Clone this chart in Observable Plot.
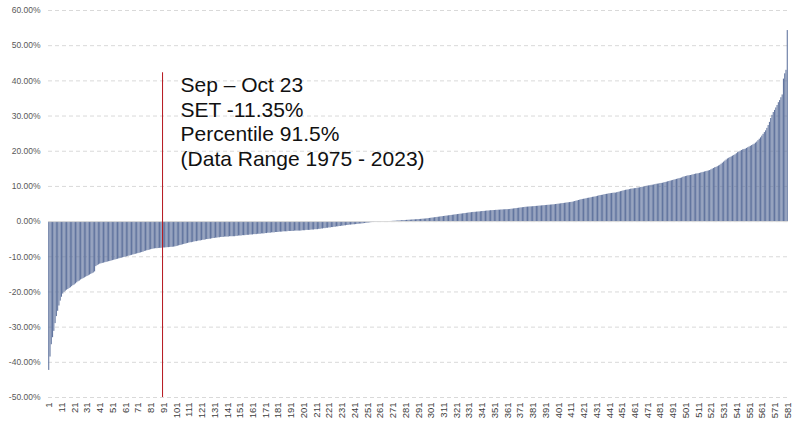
<!DOCTYPE html>
<html>
<head>
<meta charset="utf-8">
<script src="https://cdn.jsdelivr.net/npm/d3@7"></script>
<script src="https://cdn.jsdelivr.net/npm/@observablehq/plot@0.6"></script>
<style>
  html, body { margin: 0; padding: 0; background: #ffffff; }
  #chart svg { display: block; }
</style>
</head>
<body>
<div id="chart"></div>
<script>
// Monthly (two-month) SET returns, sorted ascending, in percent
const returnsPct = [
  -42.3,-38.5,-35.0,-33.0,-31.2,-29.0,-27.0,-25.5,-24.0,-22.6,
  -21.5,-20.6,-20.1,-19.8,-19.5,-19.3,-19.0,-18.8,-18.5,-18.2,
  -18.0,-17.7,-17.4,-17.1,-16.9,-16.6,-16.4,-16.2,-16.0,-15.8,
  -15.6,-15.4,-15.2,-15.0,-14.8,-14.6,-14.3,-12.8,-12.5,-12.3,
  -12.1,-12.0,-11.9,-11.8,-11.7,-11.6,-11.5,-11.4,-11.35,-11.2,
  -11.1,-11.0,-10.9,-10.8,-10.7,-10.6,-10.5,-10.4,-10.3,-10.2,
  -10.1,-10.0,-9.9,-9.8,-9.7,-9.6,-9.5,-9.4,-9.3,-9.2,
  -9.1,-9.0,-8.9,-8.8,-8.7,-8.5,-8.4,-8.3,-8.2,-8.1,
  -8.0,-7.9,-7.8,-7.75,-7.7,-7.7,-7.65,-7.6,-7.6,-7.55,
  -7.5,-7.5,-7.45,-7.4,-7.4,-7.35,-7.3,-7.3,-7.25,-7.2,
  -7.1,-7.0,-6.9,-6.8,-6.7,-6.6,-6.5,-6.4,-6.3,-6.2,
  -6.1,-6.0,-6.0,-5.9,-5.8,-5.7,-5.7,-5.6,-5.5,-5.5,
  -5.4,-5.3,-5.3,-5.2,-5.1,-5.1,-5.0,-5.0,-4.9,-4.8,
  -4.8,-4.7,-4.7,-4.6,-4.6,-4.5,-4.5,-4.5,-4.4,-4.4,
  -4.4,-4.4,-4.3,-4.3,-4.3,-4.3,-4.3,-4.2,-4.2,-4.1,
  -4.1,-4.1,-4.0,-4.0,-4.0,-3.9,-3.9,-3.9,-3.8,-3.8,
  -3.8,-3.7,-3.7,-3.7,-3.6,-3.6,-3.6,-3.5,-3.5,-3.5,
  -3.4,-3.4,-3.3,-3.3,-3.3,-3.2,-3.2,-3.2,-3.1,-3.1,
  -3.1,-3.0,-3.0,-3.0,-2.9,-2.9,-2.9,-2.9,-2.8,-2.8,
  -2.8,-2.8,-2.8,-2.7,-2.7,-2.7,-2.7,-2.7,-2.7,-2.6,
  -2.6,-2.6,-2.5,-2.5,-2.5,-2.5,-2.4,-2.4,-2.4,-2.3,
  -2.3,-2.3,-2.2,-2.2,-2.1,-2.1,-2.0,-2.0,-1.9,-1.9,
  -1.8,-1.8,-1.7,-1.7,-1.6,-1.6,-1.5,-1.5,-1.4,-1.4,
  -1.3,-1.3,-1.2,-1.2,-1.1,-1.1,-1.0,-1.0,-0.95,-0.9,
  -0.9,-0.85,-0.8,-0.75,-0.7,-0.7,-0.65,-0.6,-0.55,-0.5,
  -0.45,-0.4,-0.35,-0.3,-0.25,-0.2,-0.15,-0.1,-0.08,-0.05,
  -0.03,-0.02,-0.01,0,0,0,0.01,0.02,0.03,0.05,
  0.07,0.1,0.12,0.15,0.17,0.2,0.22,0.25,0.27,0.3,
  0.32,0.35,0.37,0.4,0.42,0.45,0.47,0.5,0.52,0.55,
  0.58,0.6,0.63,0.66,0.7,0.72,0.75,0.8,0.85,0.9,
  0.95,1.0,1.05,1.1,1.15,1.2,1.25,1.3,1.35,1.4,
  1.45,1.5,1.55,1.6,1.65,1.7,1.75,1.8,1.85,1.9,
  1.95,2.0,2.05,2.1,2.15,2.2,2.25,2.3,2.35,2.4,
  2.45,2.5,2.55,2.6,2.62,2.65,2.7,2.72,2.75,2.8,
  2.85,2.88,2.9,2.95,3.0,3.0,3.05,3.1,3.1,3.15,
  3.15,3.2,3.2,3.25,3.25,3.3,3.3,3.35,3.35,3.4,
  3.4,3.4,3.45,3.5,3.55,3.6,3.65,3.7,3.75,3.8,
  3.85,3.9,3.95,4.0,4.05,4.1,4.12,4.15,4.18,4.2,
  4.23,4.26,4.3,4.33,4.36,4.4,4.43,4.46,4.5,4.53,
  4.56,4.6,4.63,4.66,4.7,4.73,4.76,4.8,4.85,4.9,
  4.95,5.0,5.05,5.1,5.15,5.2,5.25,5.3,5.35,5.4,
  5.45,5.5,5.6,5.7,5.8,5.9,6.0,6.1,6.2,6.3,
  6.35,6.4,6.5,6.6,6.65,6.7,6.8,6.9,6.95,7.0,
  7.1,7.2,7.3,7.4,7.45,7.5,7.6,7.7,7.75,7.8,
  7.9,7.95,8.0,8.05,8.1,8.1,8.2,8.3,8.4,8.5,
  8.6,8.7,8.8,8.9,8.95,9.0,9.1,9.2,9.25,9.3,
  9.35,9.4,9.5,9.55,9.6,9.7,9.75,9.8,9.9,10.0,
  10.1,10.15,10.2,10.3,10.35,10.4,10.5,10.6,10.65,10.7,
  10.8,10.85,10.9,11.0,11.1,11.2,11.3,11.4,11.5,11.6,
  11.7,11.8,11.9,12.0,12.1,12.2,12.3,12.4,12.6,12.7,
  12.8,12.9,13.0,13.05,13.1,13.2,13.3,13.4,13.5,13.55,
  13.6,13.7,13.8,13.9,14.0,14.1,14.2,14.3,14.4,14.5,
  14.7,14.9,15.1,15.3,15.4,15.6,15.8,16.0,16.3,16.6,
  16.9,17.2,17.5,17.8,18.0,18.2,18.4,18.6,18.8,19.0,
  19.3,19.6,19.8,20.0,20.2,20.4,20.5,20.6,20.8,21.0,
  21.2,21.4,21.6,21.8,22.0,22.3,22.6,23.0,23.4,23.8,
  24.3,24.8,25.3,25.8,26.5,27.3,28.2,29.3,30.2,31.0,
  31.6,32.3,33.0,33.8,34.4,35.2,36.0,40.5,42.0,43.0,
  54.3
];

// Rank labels shown on the x axis
const xTickLabels = [1,11,21,31,41,51,61,71,81,91,101,111,121,131,141,151,161,171,181,191,
  201,211,221,231,241,251,261,271,281,291,301,311,321,331,341,351,361,371,381,391,
  401,411,421,431,441,451,461,471,481,491,501,511,521,531,541,551,561,571,581];

// Y axis ticks (percent)
const yTickLabels = [-50,-40,-30,-20,-10,0,10,20,30,40,50,60];

// Annotation marker (current period) position in the ranking
const markerRank = [90];
const markerTop = [42.3];
const markerBottom = [-50];
const annotationLines = ["Sep \u2013 Oct 23", "SET -11.35%", "Percentile 91.5%", "(Data Range 1975 - 2023)"];

const ranks = returnsPct.map((_, i) => i + 1);
const data = ranks.map((r, i) => ({rank: r, value: returnsPct[i]}));
const marker = markerRank.map((r, i) => ({rank: r, y1: markerBottom[i], y2: markerTop[i], label: annotationLines.join("\n")}));

const chart = Plot.plot({
  width: 795,
  height: 427,
  marginLeft: 48,
  marginRight: 7,
  marginTop: 10,
  marginBottom: 30,
  style: {background: "#ffffff", fontFamily: "'Liberation Sans', Arial, sans-serif"},
  x: {type: "band", domain: ranks, padding: 0.15, label: null},
  y: {domain: [-50, 60], label: null},
  marks: [
    Plot.gridY(yTickLabels, {stroke: "#d9d9d9", strokeOpacity: 1, strokeDasharray: "4,3", strokeWidth: 1}),
    Plot.barY(data, {x: "rank", y: "value", fill: "#62759f"}),
    Plot.ruleY([0], {stroke: "#d9d9d9", strokeWidth: 1}),
    Plot.ruleX(marker, {x: "rank", y1: "y1", y2: "y2", stroke: "#b5141c", strokeWidth: 1}),
    Plot.text(marker, {x: "rank", y: "y2", text: "label", textAnchor: "start", lineAnchor: "top",
      dx: 18, dy: 2, fontSize: 21, lineHeight: 1.167, fill: "#111111",
      fontFamily: "'Liberation Sans', Arial, sans-serif"}),
    Plot.axisY(yTickLabels, {tickSize: 0, tickPadding: 8, fontSize: 8.5, fill: "#595959",
      tickFormat: d => d.toFixed(2) + "%", label: null}),
    Plot.axisX(xTickLabels, {tickSize: 0, tickPadding: 5, tickRotate: -90, fontSize: 9.5,
      fill: "#404040", label: null})
  ]
});
document.getElementById("chart").appendChild(chart);
</script>
</body>
</html>
